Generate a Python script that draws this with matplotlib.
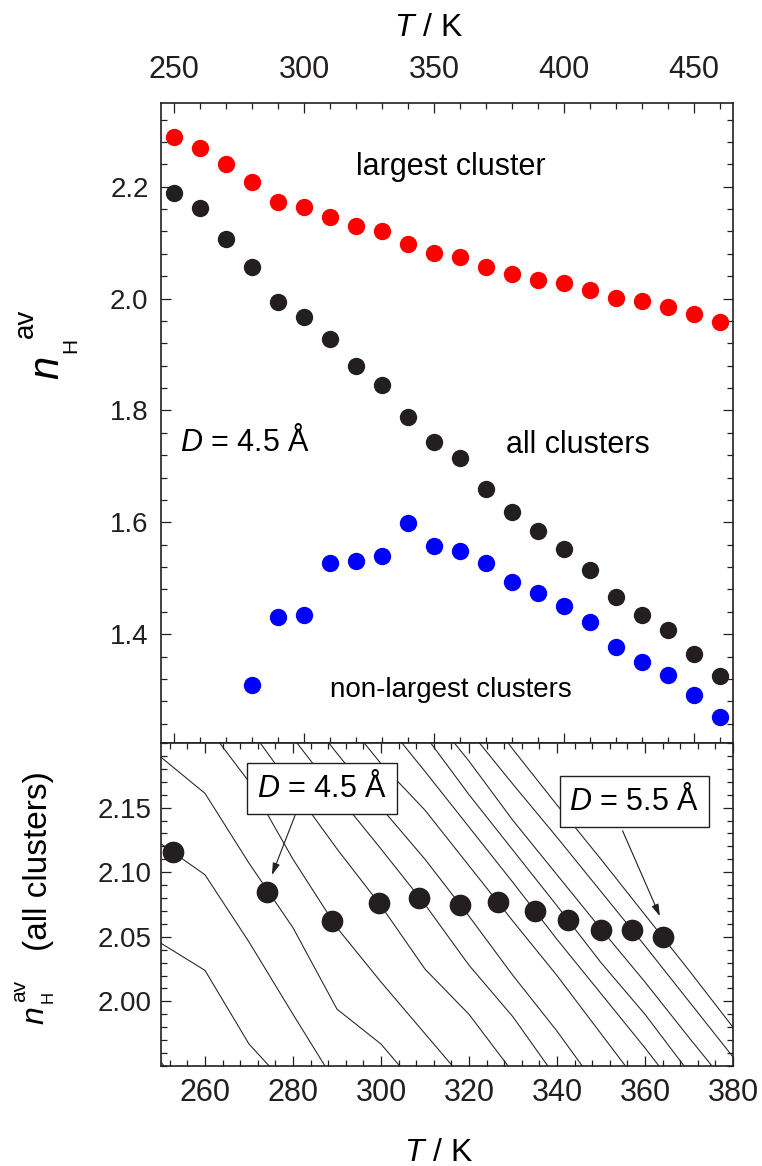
import numpy as np
import matplotlib
matplotlib.use("Agg")
import matplotlib.pyplot as plt
from matplotlib.ticker import MultipleLocator, FixedLocator, FormatStrFormatter

plt.rcParams['font.family'] = ['Liberation Sans', 'DejaVu Sans']
plt.rcParams['mathtext.fontset'] = 'custom'
plt.rcParams['mathtext.rm'] = 'Liberation Sans'
plt.rcParams['mathtext.it'] = 'Liberation Sans:italic'

INK = '#231f20'
nan = np.nan

# ---- upper panel: average H-bond number at D = 4.5 Å ----
T_upper = [250, 260, 270, 280, 290, 300, 310, 320, 330, 340, 350,
           360, 370, 380, 390, 400, 410, 420, 430, 440, 450, 460]
n_largest = [2.288, 2.269, 2.240, 2.208, 2.172, 2.164, 2.145, 2.130, 2.120, 2.098, 2.082,
             2.075, 2.056, 2.043, 2.033, 2.027, 2.016, 2.001, 1.995, 1.984, 1.973, 1.958]
n_all = [2.189, 2.161, 2.107, 2.057, 1.994, 1.967, 1.927, 1.880, 1.845, 1.789, 1.743,
         1.714, 1.659, 1.618, 1.584, 1.553, 1.514, 1.467, 1.434, 1.407, 1.364, 1.325]
T_nonlargest = [280, 290, 300, 310, 320, 330, 340, 350, 360, 370,
                380, 390, 400, 410, 420, 430, 440, 450, 460]
n_nonlargest = [1.309, 1.430, 1.434, 1.527, 1.530, 1.539, 1.599, 1.557, 1.548, 1.527,
                1.493, 1.473, 1.451, 1.421, 1.377, 1.351, 1.327, 1.291, 1.251]

# ---- lower panel: all-cluster curves for a series of cutoff distances ----
T_grid = [250, 260, 270, 280, 290, 300, 310, 320, 330, 340, 350, 360, 370, 380]
curve_D42 = [1.953, 1.910, nan, nan, nan, nan, nan, nan, nan, nan, nan, nan, nan, nan]
curve_D43 = [2.045, 2.024, 1.967, 1.930, nan, nan, nan, nan, nan, nan, nan, nan, nan, nan]
curve_D44 = [2.122, 2.098, 2.046, 1.990, 1.935, nan, nan, nan, nan, nan, nan, nan, nan, nan]
curve_D45 = [2.189, 2.161, 2.107, 2.057, 1.994, 1.967, 1.927, nan, nan, nan, nan, nan, nan, nan]
curve_D46 = [nan, 2.215, 2.170, 2.110, 2.057, 2.015, 1.975, 1.935, nan, nan, nan, nan, nan, nan]
curve_D47 = [nan, nan, 2.212, 2.165, 2.118, 2.074, 2.025, 1.990, 1.945, nan, nan, nan, nan, nan]
curve_D48 = [nan, nan, nan, 2.204, 2.160, 2.118, 2.075, 2.028, 1.988, 1.940, nan, nan, nan, nan]
curve_D49 = [nan, nan, nan, 2.235, 2.192, 2.150, 2.110, 2.066, 2.020, 1.977, 1.930, nan, nan, nan]
curve_D50 = [nan, nan, nan, nan, 2.226, 2.184, 2.148, 2.105, 2.062, 2.020, 1.975, 1.930, nan, nan]
curve_D51 = [nan, nan, nan, nan, nan, 2.220, 2.178, 2.135, 2.092, 2.048, 2.006, 1.964, 1.920, nan]
curve_D52 = [nan, nan, nan, nan, nan, nan, 2.206, 2.160, 2.117, 2.074, 2.030, 1.990, 1.945, nan]
curve_D53 = [nan, nan, nan, nan, nan, nan, 2.228, 2.186, 2.140, 2.098, 2.056, 2.015, 1.972, 1.930]
curve_D54 = [nan, nan, nan, nan, nan, nan, nan, 2.210, 2.168, 2.127, 2.085, 2.043, 2.000, 1.957]
curve_D55 = [nan, nan, nan, nan, nan, nan, nan, 2.240, 2.195, 2.152, 2.110, 2.067, 2.024, 1.980]
curves = [curve_D42, curve_D43, curve_D44, curve_D45, curve_D46, curve_D47, curve_D48,
          curve_D49, curve_D50, curve_D51, curve_D52, curve_D53, curve_D54, curve_D55]

# percolation points on the curves
T_perc = [252.8, 274.0, 288.9, 299.5, 308.7, 318.0, 326.7, 335.0, 342.4, 350.1, 357.1, 364.0]
n_perc = [2.116, 2.085, 2.062, 2.076, 2.080, 2.0745, 2.077, 2.070, 2.063, 2.055, 2.055, 2.050]

W, H = 762, 1166
fig = plt.figure(figsize=(W / 100, H / 100), dpi=100)


def px(x, y):
    return x / W, 1 - y / H


def style_axes(ax, xsize, ysize, xpad, ypad):
    for s in ax.spines.values():
        s.set_linewidth(1.2)
        s.set_color(INK)
    ax.tick_params(which='both', direction='in', top=True, right=True,
                   color=INK, width=0.9, labelcolor=INK)
    ax.tick_params(which='major', length=7.5)
    ax.tick_params(which='minor', length=4)
    ax.tick_params(axis='x', labelsize=xsize, pad=xpad)
    ax.tick_params(axis='y', labelsize=ysize, pad=ypad)


# ---------------- upper panel ----------------
ax1 = fig.add_axes([161 / W, 1 - 743 / H, 572 / W, 640 / H])
ax1.plot(T_upper, n_largest, 'o', ms=12.5, color='#ff0000', mec='none')
ax1.plot(T_upper, n_all, 'o', ms=12.5, color=INK, mec='none')
ax1.plot(T_nonlargest, n_nonlargest, 'o', ms=12.5, color='#0000ff', mec='none')
ax1.set_xlim(245, 465)
ax1.set_ylim(1.2054, 2.3495)
ax1.xaxis.set_major_locator(MultipleLocator(50))
ax1.xaxis.set_minor_locator(MultipleLocator(10))
ax1.yaxis.set_major_locator(MultipleLocator(0.2))
ax1.yaxis.set_minor_locator(MultipleLocator(0.04))
ax1.yaxis.set_major_formatter(FormatStrFormatter('%.1f'))
style_axes(ax1, 22, 20, 13, 9)
ax1.tick_params(axis='x', labeltop=True, labelbottom=False)

ax1.text(356.5, 2.221, 'largest cluster', fontsize=22, ha='center', va='baseline', color='black')
ax1.text(405.4, 1.723, 'all clusters', fontsize=22, ha='center', va='baseline', color='black')
ax1.text(252.3, 1.727, r'$D$ = 4.5 Å', fontsize=22, ha='left', va='baseline', color='black')
ax1.text(310.0, 1.2875, 'non-largest clusters', fontsize=20, ha='left', va='baseline', color='black')

# ---------------- lower panel ----------------
ax2 = fig.add_axes([161 / W, 1 - 1066 / H, 572 / W, 323 / H])
for c in curves:
    ax2.plot(T_grid, c, color=INK, lw=0.75)
ax2.plot(T_perc, n_perc, 'o', ms=15.6, color=INK, mec='none', zorder=4)
ax2.set_xlim(250, 380)
ax2.set_ylim(1.95, 2.20)
ax2.xaxis.set_major_locator(MultipleLocator(20))
ax2.xaxis.set_minor_locator(MultipleLocator(4))
ax2.yaxis.set_major_locator(FixedLocator([2.00, 2.05, 2.10, 2.15]))
ax2.yaxis.set_minor_locator(MultipleLocator(0.01))
ax2.yaxis.set_major_formatter(FormatStrFormatter('%.2f'))
style_axes(ax2, 22, 20, 8.5, 6.7)

box = dict(boxstyle='square,pad=0.32', fc='white', ec=INK, lw=1.0)
ax2.text(286.6, 2.1649, r'$D$ = 4.5 Å', fontsize=22, ha='center', va='center',
         bbox=box, zorder=5)
ax2.text(357.6, 2.1548, r'$D$ = 5.5 Å', fontsize=22, ha='center', va='center',
         bbox=box, zorder=5)
arrow = dict(arrowstyle='-|>,head_length=0.6,head_width=0.18', color=INK, lw=0.8,
             shrinkA=0, shrinkB=0, mutation_scale=12)
ax2.annotate('', xy=(275.2, 2.0978), xytext=(280.5, 2.1443), arrowprops=arrow, zorder=5)
ax2.annotate('', xy=(363.4, 2.0659), xytext=(354.9, 2.1321), arrowprops=arrow, zorder=5)

# ---------------- axis titles ----------------
fig.text(*px(429, 36), r'$T$ / K', fontsize=23, ha='center', va='baseline')
fig.text(*px(439, 1161), r'$T$ / K', fontsize=23, ha='center', va='baseline')

# upper y title: n_H^av built from three pieces
rot = dict(rotation=90, rotation_mode='anchor', ha='center', va='baseline', color='black')
fig.text(*px(58, 367), 'n', fontsize=30, style='italic', **rot)
fig.text(*px(76, 345), 'H', fontsize=15, **rot)
fig.text(*px(33, 323), 'av', fontsize=20, **rot)

# lower y title
fig.text(*px(43, 1015), 'n', fontsize=23, style='italic', **rot)
fig.text(*px(53, 997), 'H', fontsize=12, **rot)
fig.text(*px(25, 991), 'av', fontsize=15, **rot)
fig.text(*px(47, 861), '(all clusters)', fontsize=24, **rot)

fig.savefig('out.png', dpi=100)
